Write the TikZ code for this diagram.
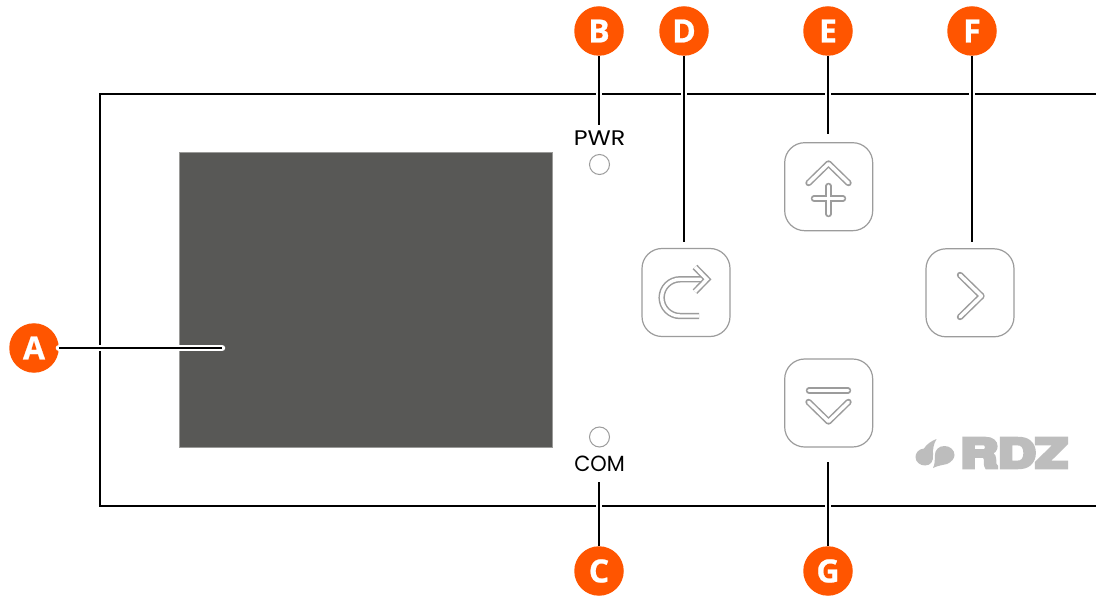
\documentclass[tikz,border=0pt]{standalone}
\usepackage{fontspec}
\setmainfont[BoldFeatures={FakeBold=0.7}]{Open Sans}
\newfontfamily\panelfont{Poppins}
\newfontfamily\logofont[BoldFeatures={FakeBold=9}]{TeX Gyre Heros}
\definecolor{tagorange}{HTML}{FF5500}
\definecolor{screengray}{HTML}{585856}
\definecolor{screenedge}{HTML}{9A9A98}
\definecolor{keygray}{HTML}{9C9C9C}
\definecolor{logogray}{HTML}{BDBDBD}
\tikzset{
  x=1pt,y=-1pt,
  tag/.style={circle,fill=tagorange,text=white,minimum size=49.5pt,inner sep=0pt,font=\fontsize{32}{32}\selectfont\bfseries},
  keybox/.style={draw=keygray,line width=1.2pt,rounded corners=20pt,minimum width=88pt,minimum height=88pt,fill=white,inner sep=0pt},
  led/.style={circle,draw=keygray,line width=1pt,minimum size=20pt,inner sep=0pt},
  paneltext/.style={font=\panelfont\fontsize{20}{20}\selectfont,text=black,inner sep=0pt},
  halo/.style={draw=white,line width=6.5pt},
  leader/.style={draw=black,line width=2.6pt},
  glyphout/.style={draw=keygray,line width=6.4pt,line join=round},
  glyphin/.style={draw=white,line width=3.4pt,line join=round},
}
\newcommand{\twotone}[2]{%
  \draw[glyphout,#1] #2;
  \draw[glyphin,#1] #2;
}
\begin{document}
\begin{tikzpicture}
\useasboundingbox (0,0) rectangle (1096,596);
\fill[white] (0,0) rectangle (1096,596);
% panel outline, open at the right
\draw[black,line width=1.3pt] (1096,94) -- (100,94) -- (100,506) -- (1096,506);
% display
\node[draw=screenedge,line width=1pt,fill=screengray,minimum width=373pt,minimum height=294.5pt,inner sep=0pt] (screen) at (366,300) {};
% indicators
\node[led] (ledpwr) at (599.5,164.5) {};
\node[led] (ledcom) at (599.5,437) {};
\node[paneltext] (pwr) at (599.5,138.5) {\resizebox{51.5pt}{14.7pt}{PWR}};
\node[paneltext] (com) at (599.5,463.5) {\resizebox{50.5pt}{15.5pt}{COM}};
% keys
\node[keybox] (keyd) at (686,292.5) {};
\node[keybox] (keye) at (828.7,186.7) {};
\node[keybox] (keyf) at (970,292.8) {};
\node[keybox] (keyg) at (828.7,403) {};
% key glyphs
\twotone{line cap=butt}{(699,316) -- (680,316) arc[start angle=90,end angle=270,radius=18.35] -- (706,279.3)}
\twotone{line cap=butt,miter limit=10,line join=miter}{(695,267) -- (707,279.3) -- (695,291.6)}
\twotone{line cap=round}{(808.5,183) -- (828.5,163.5) -- (848.5,183)}
\draw[glyphout,line cap=round] (814,198.5) -- (843,198.5) (828.5,186) -- (828.5,214);
\draw[glyphin,line cap=round] (814,198.5) -- (843,198.5) (828.5,186) -- (828.5,214);
\twotone{line cap=round}{(960,275) -- (981.5,296) -- (960,317)}
\twotone{line cap=round}{(809,390.5) -- (848,390.5)}
\twotone{line cap=round}{(808.5,402) -- (828.5,421.5) -- (848.5,402)}
% logo
\fill[logogray] (936.5,439) .. controls (931,441) and (926,445) .. (924,448.5) .. controls (918.5,449) and (915.5,453) .. (915.5,457) .. controls (915.5,462) and (920,465.5) .. (925,465.5) .. controls (931,465.5) and (933.5,461) .. (933,455) .. controls (932.5,449) and (934,443) .. (936.5,439) -- cycle;
\fill[logogray] (933,468) .. controls (938,465.5) and (943,465) .. (947,464) .. controls (952,462) and (954.5,458) .. (954.5,455) .. controls (954.5,450) and (950,446) .. (944.5,446) .. controls (938.5,446) and (934.8,450) .. (934.8,456) .. controls (934.8,460) and (935,464) .. (933,468) -- cycle;
\node[inner sep=0pt,text=logogray] (logo) at (1014,453) {\resizebox{107pt}{29pt}{\logofont\bfseries RDZ}};
% callouts
\coordinate (screenend) at (222,348);
\coordinate (keydtop) at (684,242);
\coordinate (keyetop) at (828,134);
\coordinate (keyftop) at (972,242);
\coordinate (keygbot) at (828,462);
\coordinate (pwrtop) at (599,125);
\coordinate (combot) at (599,482);
\node[tag] (A) at (34,348) {A};
\node[tag] (B) at (599,31) {B};
\node[tag] (D) at (684,31) {D};
\node[tag] (E) at (828,31) {E};
\node[tag] (F) at (972,31) {F};
\node[tag] (C) at (599,571) {C};
\node[tag] (G) at (828,571) {G};
\foreach \a/\b in {B/pwrtop,D/keydtop,E/keyetop,F/keyftop,C/combot,G/keygbot}{
  \draw[halo] (\a) -- (\b);
  \draw[leader] (\a) -- (\b);
}
\draw[halo,line cap=round] (A) -- (screenend);
\draw[leader] (A) -- (screenend);
\end{tikzpicture}
\end{document}
